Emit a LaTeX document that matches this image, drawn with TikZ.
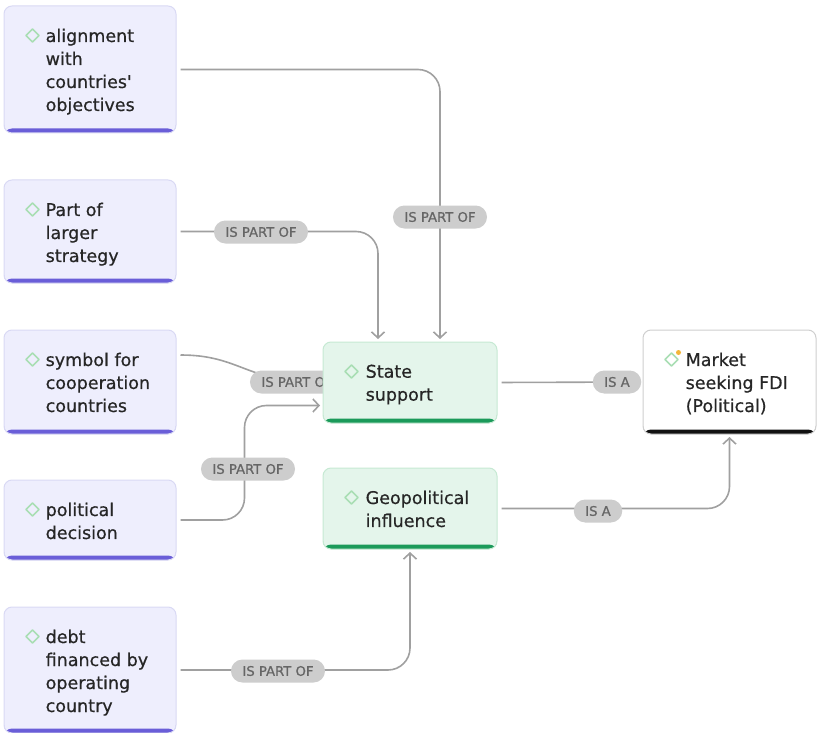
\documentclass[tikz,border=0pt]{standalone}
\usepackage{fontspec}
\setmainfont{DejaVu Sans}[Ligatures=TeXOff]
\newfontfamily\mediumface{DejaVu Sans}[Ligatures=TeXOff, FakeBold=0.6]
\newfontfamily\tagface{DejaVu Sans}[Ligatures=TeXOff, FakeBold=0.9]
\usetikzlibrary{arrows.meta,calc}

\definecolor{ink}{HTML}{262626}
\definecolor{lavFill}{HTML}{EEEEFD}
\definecolor{lavLine}{HTML}{D9D9F4}
\definecolor{lavBar}{HTML}{6A5ED8}
\definecolor{grnFill}{HTML}{E4F5EB}
\definecolor{grnLine}{HTML}{C6E9D3}
\definecolor{grnBar}{HTML}{1B9A5A}
\definecolor{whtLine}{HTML}{CFCFCF}
\definecolor{blkBar}{HTML}{111111}
\definecolor{wire}{HTML}{A0A0A0}
\definecolor{pill}{HTML}{CDCDCD}
\definecolor{pillText}{HTML}{666666}
\definecolor{gemCol}{HTML}{A9DEB4}
\definecolor{spark}{HTML}{F3B63A}

\pgfdeclarelayer{bg}
\pgfsetlayers{bg,main}

\tikzset{
  card/.style n args={3}{draw=#1, fill=#2, line width=1pt, rounded corners=8pt,
    inner sep=0pt,
    path picture={\fill[#3] (path picture bounding box.south west)
      rectangle ([yshift=4.5pt]path picture bounding box.south east);}},
  lcard/.style={card={lavLine}{lavFill}{lavBar}, minimum width=172pt},
  gcard/.style={card={grnLine}{grnFill}{grnBar}, minimum width=174pt},
  wcard/.style={card={whtLine}{white}{blkBar}, minimum width=173pt},
  txt/.style={anchor=north west, inner sep=0pt, align=left, text=ink,
    font=\mediumface\fontsize{17.5}{23}\selectfont},
  lbl/.style={fill=pill, text=pillText, rounded corners=11.5pt,
    minimum height=23pt, inner xsep=11.5pt, inner ysep=0pt,
    font=\tagface\fontsize{13.2}{15}\selectfont},
  wireline/.style={draw=wire, line width=1.6pt, rounded corners=22pt,
    shorten <=4pt, shorten >=2.5pt},
  tip/.style={-{Straight Barb[length=6pt,width=13pt]}},
  gem/.pic={\draw[gemCol, line width=1.5pt, line join=round]
    (0,6.5) -- (6.5,0) -- (0,-6.5) -- (-6.5,0) -- cycle;}
}

\begin{document}
\begin{tikzpicture}[x=1pt,y=1pt]
\useasboundingbox (0,0) rectangle (817,-733);

% concept cards
\node[lcard, minimum height=127pt] (a)  at (90,-69.5) {};
\node[lcard, minimum height=103pt] (ps) at (90,-231.5) {};
\node[lcard, minimum height=104pt] (sy) at (90,-382) {};
\node[lcard, minimum height=80pt]  (pd) at (90,-520) {};
\node[lcard, minimum height=126pt] (db) at (90,-670) {};
\node[gcard, minimum height=81pt]  (ss) at (410,-382.5) {};
\node[gcard, minimum height=81pt]  (gi) at (410,-508.5) {};
\node[wcard, minimum height=104pt] (mk) at (729.5,-382) {};

% card texts
\node[txt] (a-t)  at ($(a.north west)+(42,-23)$)  {alignment\\with\\countries'\\objectives};
\node[txt] (ps-t) at ($(ps.north west)+(42,-23)$) {Part of\\larger\\strategy};
\node[txt] (sy-t) at ($(sy.north west)+(42,-23)$) {symbol for\\cooperation\\countries};
\node[txt] (pd-t) at ($(pd.north west)+(42,-23)$) {political\\decision};
\node[txt] (db-t) at ($(db.north west)+(42,-23)$) {debt\\financed by\\operating\\country};
\node[txt] (ss-t) at ($(ss.north west)+(43,-23)$) {State\\support};
\node[txt] (gi-t) at ($(gi.north west)+(43,-23)$) {Geopolitical\\influence};
\node[txt] (mk-t) at ($(mk.north west)+(43,-23)$) {Market\\seeking FDI\\(Political)};

% card icons
\foreach \c in {a,ps,sy,pd,db,ss,gi,mk}
  \pic at ($(\c.north west)+(29,-30)$) {gem};
\fill[spark] ($(mk.north west)+(36,-23)$) circle (2.5pt);

% relations, behind the cards
\begin{pgfonlayer}{bg}
\draw[wireline, tip] (a.east) -| ([xshift=30]ss.north);
\draw[wireline, tip] (ps.east) -| ([xshift=-32]ss.north);
\draw[wireline, tip] ([yshift=27]sy.east) .. controls (240,-355) and (246,-382) .. (ss.west);
\draw[wireline, tip] (pd.east) -| ($(ss.west)+(-78,-23)$) -- ([yshift=-23]ss.west);
\draw[wireline, tip] (db.east) -| (gi.south);
\draw[wireline, tip, shorten >=3.5pt] (ss.east) -- (mk.west);
\draw[wireline, tip] (gi.east) -| (mk.south);

\node[lbl] (l1) at (440,-217) {IS PART OF};
\node[lbl] (l2) at (261,-232) {IS PART OF};
\node[lbl] (l3) at (297,-382) {IS PART OF};
\node[lbl] (l4) at (248,-469) {IS PART OF};
\node[lbl] (l5) at (278,-671) {IS PART OF};
\node[lbl] (l6) at (617,-382) {IS A};
\node[lbl] (l7) at (598,-511) {IS A};
\end{pgfonlayer}
\end{tikzpicture}
\end{document}
